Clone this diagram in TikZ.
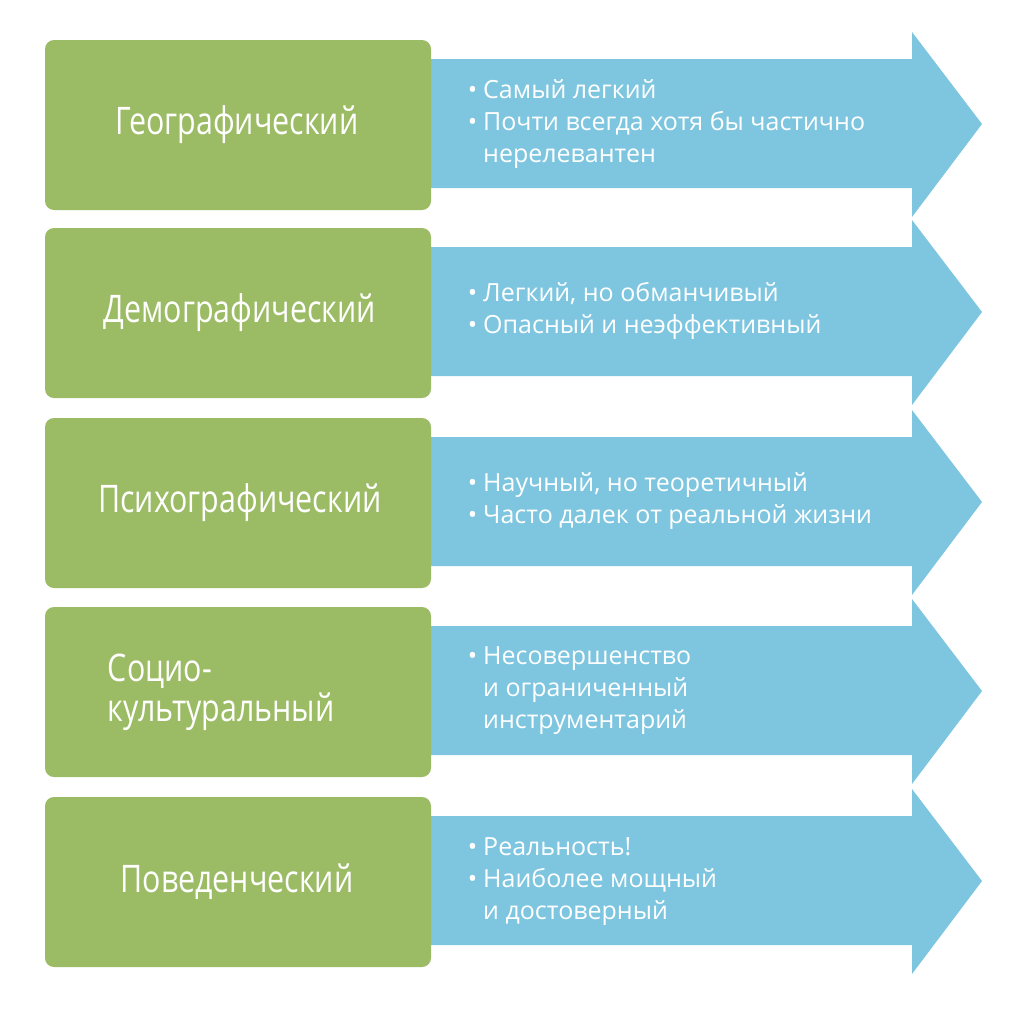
\documentclass[tikz,border=0pt]{standalone}
\usepackage{fontspec}
\setmainfont{Open Sans}
\definecolor{gbox}{HTML}{9BBB64}
\definecolor{barrow}{HTML}{7EC6E0}
\begin{document}
\begin{tikzpicture}[x=1pt,y=-1pt,
  greenbox/.style={fill=gbox,rounded corners=9pt},
  arrowshape/.style={fill=barrow},
  title/.style={text=white,font=\fontsize{38}{40}\selectfont,xscale=0.8,align=center},
  bullets/.style={text=white,font=\fontsize{25}{32}\selectfont,anchor=west,align=left,inner sep=0pt}]
\useasboundingbox (0,0) rectangle (1024,1017);
\foreach \i/\t in {0/40,1/228,2/418,3/607,4/797}{
  \fill[arrowshape] (428,\t+19) -- (912,\t+19) -- (912,\t-8) -- (982,\t+84) -- (912,\t+177) -- (912,\t+148) -- (428,\t+148) -- cycle;
  \fill[greenbox] (45,\t) rectangle (431,\t+170);
}
\node[title] (t1) at (237,125) {Географический};
\node[title] (t2) at (240,313) {Демографический};
\node[title] (t3) at (240,503) {Психографический};
\node[title,align=left,anchor=west] (t4) at (105,692) {Социо-\\культуральный};
\node[title] (t5) at (237,882) {Поведенческий};
\def\bl{\llap{•\hspace{6pt}}}
\node[bullets] (b1) at (483,124) {\bl Самый легкий\\ \bl Почти всегда хотя бы частично\\ нерелевантен};
\node[bullets] (b2) at (483,311) {\bl Легкий, но обманчивый\\ \bl Опасный и неэффективный};
\node[bullets] (b3) at (483,501) {\bl Научный, но теоретичный\\ \bl Часто далек от реальной жизни};
\node[bullets] (b4) at (483,691) {\bl Несовершенство\\ и ограниченный\\ инструментарий};
\node[bullets] (b5) at (483,882) {\bl Реальность!\\ \bl Наиболее мощный\\ и достоверный};
\end{tikzpicture}
\end{document}
